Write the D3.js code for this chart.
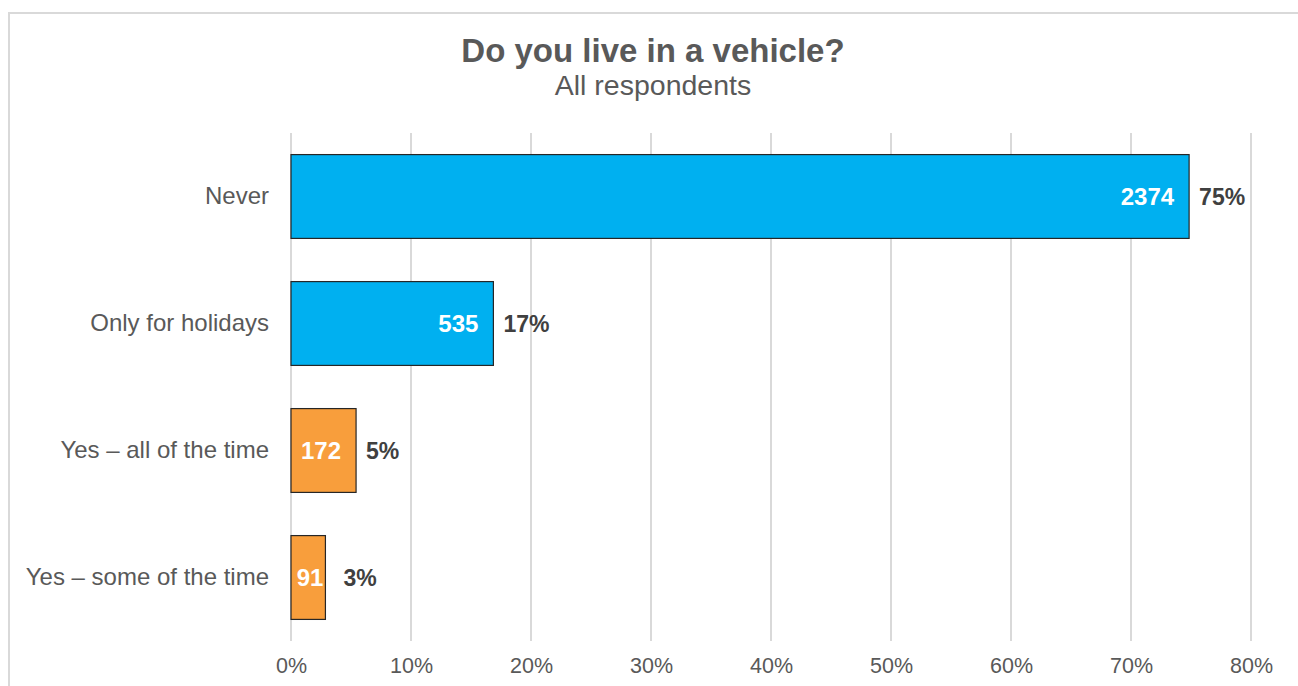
<!DOCTYPE html>
<html>
<head>
<meta charset="utf-8">
<script src="https://cdn.jsdelivr.net/npm/d3@7"></script>
<style>
  html, body { margin: 0; padding: 0; background: #ffffff; }
  svg { display: block; font-family: "Liberation Sans", Arial, sans-serif; }
</style>
</head>
<body>
<svg id="chart" width="1298" height="686"></svg>
<script>
// Survey answers, top to bottom
const categories = ["Never", "Only for holidays", "Yes \u2013 all of the time", "Yes \u2013 some of the time"];
// Number of respondents per answer
const counts = [2374, 535, 172, 91];
// Bar colour group per answer
const groups = ["no", "no", "yes", "yes"];
// Axis tick values (share of respondents)
const tickValues = [0, 0.1, 0.2, 0.3, 0.4, 0.5, 0.6, 0.7, 0.8];

const total = d3.sum(counts);
const rows = categories.map((c, i) => ({
  category: c,
  count: counts[i],
  share: counts[i] / total,
  group: groups[i]
}));

const colour = d3.scaleOrdinal().domain(["no", "yes"]).range(["#00B0F0", "#F89E3C"]);

const svg = d3.select("#chart");
const W = 1298, H = 686;

// Chart area frame
svg.append("rect")
  .attr("x", 9).attr("y", 13)
  .attr("width", W + 20).attr("height", H + 20)
  .attr("fill", "#ffffff")
  .attr("stroke", "#d9d9d9")
  .attr("stroke-width", 2);

// Titles
svg.append("text")
  .attr("x", 653).attr("y", 62)
  .attr("text-anchor", "middle")
  .attr("font-size", 33).attr("font-weight", "bold")
  .attr("fill", "#595959")
  .text("Do you live in a vehicle?");
svg.append("text")
  .attr("x", 653).attr("y", 95)
  .attr("text-anchor", "middle")
  .attr("font-size", 28.5)
  .attr("fill", "#595959")
  .text("All respondents");

const plot = { left: 291, right: 1251, top: 133, bottom: 641 };

const x = d3.scaleLinear().domain([0, 0.8]).range([plot.left, plot.right]);
const y = d3.scaleBand()
  .domain(categories)
  .range([plot.top, plot.bottom])
  .paddingInner(0.34)
  .paddingOuter(0.17);

// Vertical gridlines
svg.append("g")
  .selectAll("line")
  .data(tickValues)
  .join("line")
  .attr("x1", d => x(d)).attr("x2", d => x(d))
  .attr("y1", plot.top).attr("y2", plot.bottom)
  .attr("stroke", "#d9d9d9")
  .attr("stroke-width", 2);

// Bottom axis labels
const xAxis = d3.axisBottom(x)
  .tickValues(tickValues)
  .tickFormat(d3.format(".0%"))
  .tickSize(0)
  .tickPadding(0);
const gx = svg.append("g")
  .attr("transform", `translate(0,${plot.bottom})`)
  .call(xAxis);
gx.select(".domain").remove();
gx.selectAll("text")
  .attr("y", 32)
  .attr("dy", 0)
  .attr("font-size", 21.5)
  .attr("font-family", "Liberation Sans, Arial, sans-serif")
  .attr("fill", "#595959");

// Left category labels
const yAxis = d3.axisLeft(y).tickSize(0).tickPadding(22);
const gy = svg.append("g")
  .attr("transform", `translate(${plot.left},0)`)
  .call(yAxis);
gy.select(".domain").remove();
gy.selectAll("text")
  .attr("font-size", 24)
  .attr("font-family", "Liberation Sans, Arial, sans-serif")
  .attr("fill", "#595959");

// Bars
svg.append("g")
  .selectAll("rect")
  .data(rows)
  .join("rect")
  .attr("x", x(0))
  .attr("y", d => y(d.category))
  .attr("width", d => x(d.share) - x(0))
  .attr("height", y.bandwidth())
  .attr("fill", d => colour(d.group))
  .attr("stroke", "#262626")
  .attr("stroke-width", 1.2);

// Counts inside the bars
svg.append("g")
  .selectAll("text")
  .data(rows)
  .join("text")
  .attr("x", d => x(d.share) - (d.count < 100 ? 2 : 15))
  .attr("y", d => y(d.category) + y.bandwidth() / 2)
  .attr("dy", "0.35em")
  .attr("text-anchor", "end")
  .attr("font-size", 24)
  .attr("font-weight", "bold")
  .attr("fill", "#ffffff")
  .text(d => d.count);

// Percentages beside the bars
svg.append("g")
  .selectAll("text")
  .data(rows)
  .join("text")
  .attr("x", d => x(d.share) + (d.count < 100 ? 18 : 10))
  .attr("y", d => y(d.category) + y.bandwidth() / 2)
  .attr("dy", "0.35em")
  .attr("font-size", 23)
  .attr("font-weight", "bold")
  .attr("fill", "#404040")
  .text(d => d3.format(".0%")(d.share));
</script>
</body>
</html>
